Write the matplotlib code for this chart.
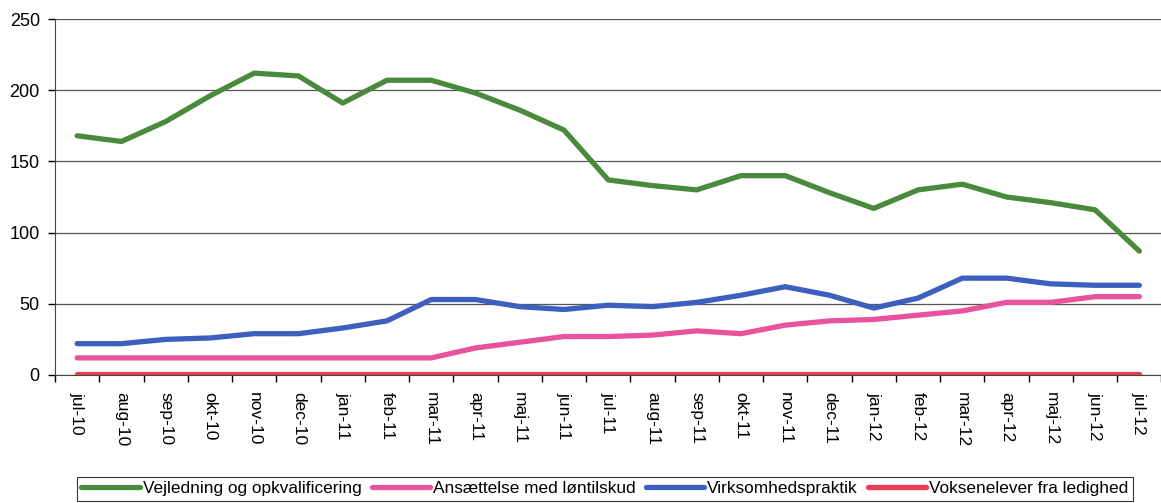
import numpy as np
import matplotlib
matplotlib.use("Agg")
import matplotlib.pyplot as plt

plt.rcParams['font.family'] = ['Liberation Sans', 'DejaVu Sans']

months = ['jul-10', 'aug-10', 'sep-10', 'okt-10', 'nov-10', 'dec-10', 'jan-11', 'feb-11',
          'mar-11', 'apr-11', 'maj-11', 'jun-11', 'jul-11', 'aug-11', 'sep-11', 'okt-11',
          'nov-11', 'dec-11', 'jan-12', 'feb-12', 'mar-12', 'apr-12', 'maj-12', 'jun-12', 'jul-12']

vejledning = [168, 164, 178, 196, 212, 210, 191, 207, 207, 198, 186, 172, 137, 133, 130,
              140, 140, 128, 117, 130, 134, 125, 121, 116, 87]
loentilskud = [12, 12, 12, 12, 12, 12, 12, 12, 12, 19, 23, 27, 27, 28, 31, 29, 35, 38, 39,
               42, 45, 51, 51, 55, 55]
praktik = [22, 22, 25, 26, 29, 29, 33, 38, 53, 53, 48, 46, 49, 48, 51, 56, 62, 56, 47, 54,
           68, 68, 64, 63, 63]
voksenelever = [1] * 25

fig = plt.figure(figsize=(11.61, 5.03), dpi=100)
ax = fig.add_axes([0.0474, 0.2545, 0.953, 0.7077])

x = np.arange(len(months))
ax.plot(x, vejledning, color='#4a8a3c', lw=3.8, solid_capstyle='round',
        label='Vejledning og opkvalificering')
ax.plot(x, loentilskud, color='#e8529f', lw=3.8, solid_capstyle='round',
        label='Ansættelse med løntilskud')
ax.plot(x, praktik, color='#3d5fbd', lw=3.8, solid_capstyle='round',
        label='Virksomhedspraktik')
ax.plot(x, voksenelever, color='#ee3d52', lw=3.8, solid_capstyle='round',
        label='Voksenelever fra ledighed')

ax.set_xlim(-0.5, len(months) - 0.5)
ax.set_ylim(0, 250)
ax.set_yticks(range(0, 251, 50))
ax.yaxis.grid(True, color='#555555', lw=0.9)
ax.set_axisbelow(True)

ax.set_xticks(x)
ax.set_xticklabels(months, rotation=270, fontsize=12.5)
ax.set_xticks(np.arange(-0.5, len(months), 1.0), minor=True)
ax.tick_params(axis='x', which='major', length=0, pad=12)
ax.tick_params(axis='x', which='minor', length=5, width=1, direction='out')
ax.tick_params(axis='y', length=5, width=1, labelsize=13, pad=6)

for s in ['top', 'right']:
    ax.spines[s].set_visible(False)
ax.spines['left'].set_color('#444444')
ax.spines['bottom'].set_color('#444444')

leg = fig.legend(loc='center', bbox_to_anchor=(0.521, 0.028), ncol=4, fontsize=12.4,
                 frameon=True, fancybox=False, edgecolor='black', handlelength=3.4,
                 handletextpad=0.15, columnspacing=0.6, borderpad=0.25)
leg.get_frame().set_linewidth(0.8)

fig.savefig('out.png', dpi=100)
